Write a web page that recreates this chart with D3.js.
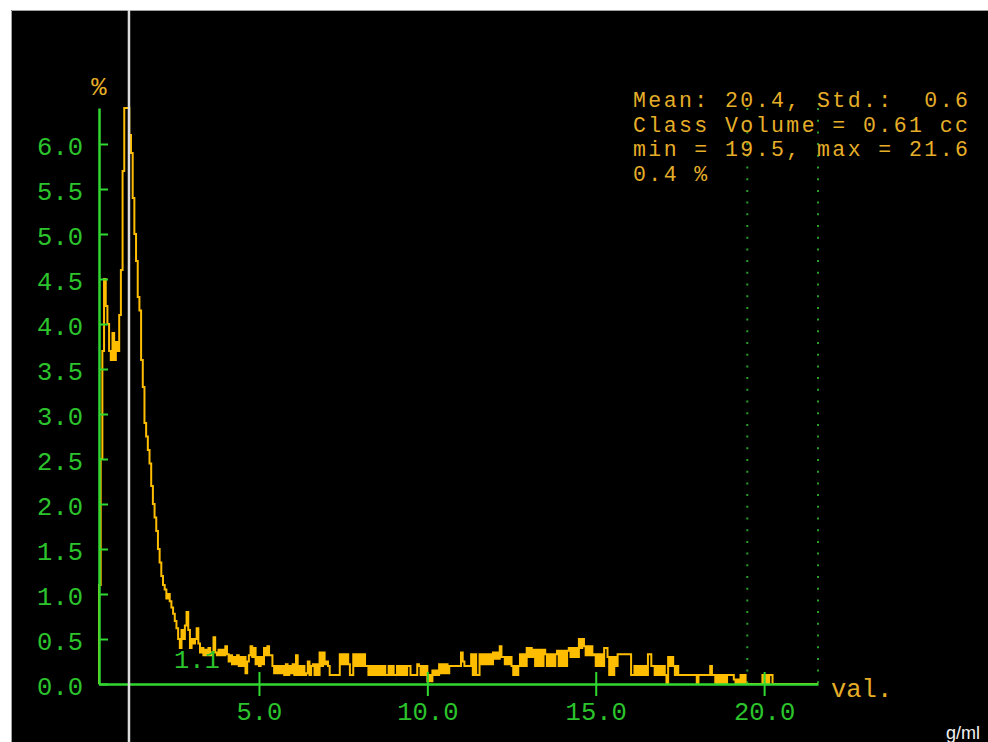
<!DOCTYPE html>
<html>
<head>
<meta charset="utf-8">
<script src="https://cdn.jsdelivr.net/npm/d3@7"></script>
<style>
  html, body { margin: 0; padding: 0; background: #fff; }
  svg { display: block; }
  text { white-space: pre; }
</style>
</head>
<body>
<svg id="chart" width="988" height="742"></svg>
<script>
// Class histogram: percentage of sample volume per 0.05 g/ml class, first class starts at 0.25
const binStart = 0.25;
const binWidth = 0.05;
const percent = [
  1.1, 2.5, 3.7, 4.5, 4.2, 4.0, 3.7, 3.6, 3.9, 3.6, 3.8, 3.7, 4.1, 4.6, 5.7, 6.4, 6.4, 6.4, 6.1, 5.9,
  5.4, 5.0, 4.7, 4.3, 4.15, 3.6, 3.3, 2.9, 2.75, 2.6, 2.45, 2.2, 2.0, 1.85, 1.7, 1.5, 1.35, 1.2, 1.1, 1.05,
  0.95, 1.0, 0.92, 0.85, 0.78, 0.7, 0.62, 0.5, 0.4, 0.6, 0.5, 0.65, 0.8, 0.6, 0.4, 0.5, 0.45, 0.5, 0.62, 0.45,
  0.35, 0.4, 0.32, 0.38, 0.32, 0.4, 0.32, 0.35, 0.52, 0.35, 0.32, 0.38, 0.32, 0.38, 0.32, 0.42, 0.33, 0.25, 0.32, 0.22,
  0.3, 0.22, 0.32, 0.2, 0.3, 0.2, 0.3, 0.12, 0.25, 0.32, 0.42, 0.3, 0.4, 0.22, 0.3, 0.2, 0.3, 0.22, 0.4, 0.32,
  0.42, 0.32, 0.32, 0.2, 0.12, 0.2, 0.12, 0.2, 0.12, 0.2, 0.1, 0.22, 0.1, 0.2, 0.12, 0.22, 0.1, 0.32, 0.1, 0.2,
  0.1, 0.2, 0.1, 0.12, 0.25, 0.1, 0.2, 0.22, 0.1, 0.22, 0.1, 0.35, 0.2, 0.35, 0.22, 0.25, 0.2, 0.1, 0.1, 0.1,
  0.1, 0.1, 0.1, 0.33, 0.22, 0.33, 0.22, 0.33, 0.22, 0.1, 0.1, 0.33, 0.2, 0.33, 0.2, 0.33, 0.2, 0.33, 0.2, 0.2,
  0.1, 0.2, 0.1, 0.2, 0.1, 0.2, 0.1, 0.2, 0.1, 0.2, 0.1, 0.1, 0.2, 0.1, 0.2, 0.1, 0.1, 0.2, 0.1, 0.2,
  0.1, 0.2, 0.1, 0.2, 0.2, 0.1, 0.1, 0.1, 0.1, 0.22, 0.2, 0.1, 0.2, 0.1, 0.2, 0.03, 0.1, 0.03, 0.15, 0.1,
  0.15, 0.1, 0.22, 0.12, 0.22, 0.12, 0.22, 0.12, 0.2, 0.2, 0.2, 0.2, 0.2, 0.2, 0.2, 0.35, 0.25, 0.2, 0.2, 0.2,
  0.2, 0.33, 0.1, 0.33, 0.1, 0.1, 0.33, 0.22, 0.33, 0.22, 0.33, 0.22, 0.33, 0.22, 0.35, 0.28, 0.35, 0.28, 0.42, 0.3,
  0.3, 0.22, 0.3, 0.22, 0.3, 0.2, 0.1, 0.2, 0.1, 0.2, 0.33, 0.2, 0.33, 0.2, 0.4, 0.3, 0.4, 0.3, 0.38, 0.2,
  0.38, 0.2, 0.38, 0.2, 0.38, 0.33, 0.2, 0.33, 0.2, 0.33, 0.2, 0.33, 0.37, 0.2, 0.37, 0.2, 0.37, 0.2, 0.37, 0.4,
  0.3, 0.4, 0.3, 0.4, 0.3, 0.5, 0.4, 0.5, 0.42, 0.32, 0.42, 0.32, 0.42, 0.32, 0.33, 0.2, 0.33, 0.2, 0.33, 0.2,
  0.4, 0.4, 0.3, 0.1, 0.3, 0.1, 0.3, 0.2, 0.33, 0.33, 0.33, 0.33, 0.33, 0.33, 0.33, 0.33, 0.1, 0.1, 0.2, 0.1,
  0.2, 0.1, 0.2, 0.1, 0.2, 0.1, 0.33, 0.33, 0.2, 0.2, 0.1, 0.2, 0.1, 0.2, 0.1, 0.2, 0.1, 0.0, 0.3, 0.2,
  0.3, 0.2, 0.1, 0.2, 0.1, 0.1, 0.1, 0.1, 0.1, 0.1, 0.1, 0.1, 0.1, 0.1, 0.1, 0.0, 0.1, 0.1, 0.1, 0.1,
  0.1, 0.1, 0.1, 0.2, 0.1, 0.1, 0.0, 0.1, 0.0, 0.1, 0.0, 0.1, 0.0, 0.1, 0.1, 0.1, 0.1, 0.05, 0.0, 0.05,
  0.0, 0.1, 0.0, 0.1, 0.0, 0.0, 0.0, 0.0, 0.0, 0.0, 0.0, 0.0, 0.0, 0.0, 0.1, 0.0, 0.1, 0.0, 0.1, 0.1,
  0, 0, 0, 0, 0, 0, 0, 0, 0, 0, 0, 0, 0, 0, 0, 0, 0, 0, 0, 0,
  0, 0, 0, 0, 0, 0, 0
];

const xTicks = [5, 10, 15, 20];
const yTicks = [0, 0.5, 1.0, 1.5, 2.0, 2.5, 3.0, 3.5, 4.0, 4.5, 5.0, 5.5, 6.0];

// cursor position and the selected class limits
const cursorValue = 1.14;
const classMin = 19.5;
const classMax = 21.6;

const statsLines = [
  "Mean: 20.4, Std.:  0.6",
  "Class Volume = 0.61 cc",
  "min = 19.5, max = 21.6",
  "0.4 %"
];
const yLabel = "%";
const xLabel = "val.";
const unitLabel = "g/ml";

// ---- drawing ----
const W = 988, H = 742;
const mono = "'Liberation Mono', 'DejaVu Sans Mono', monospace";
const fontPx = 25.5;
const statsPx = 21.5;
const axisGreen = "#30d830";
const labelGreen = "#2cc42c";
const dotGreen = "#2a9e2a";
const gold = "#e6ae28";
const traceColor = "#ffbd00";

const svg = d3.select("#chart");

// black screen area with a thin grey edge
svg.append("rect")
  .attr("x", 11).attr("y", 10)
  .attr("width", W - 11).attr("height", H - 10)
  .attr("fill", "#000");
svg.append("path")
  .attr("d", `M11.5,${H}V10.5H${W}`)
  .attr("fill", "none")
  .attr("stroke", "#a0a0a0")
  .attr("stroke-width", 1);

const xMax = binStart + percent.length * binWidth;
const x = d3.scaleLinear().domain([binStart, xMax]).range([99, 818]);
const y = d3.scaleLinear().domain([0, d3.max(percent)]).range([684, 108]);

// class limits as dotted verticals
svg.append("g")
  .selectAll("line")
  .data([classMin, classMax])
  .join("line")
  .attr("x1", d => x(d)).attr("x2", d => x(d))
  .attr("y1", y.range()[1]).attr("y2", y(0))
  .attr("stroke", dotGreen)
  .attr("stroke-width", 2)
  .attr("stroke-dasharray", "2,9.7");

// histogram trace as a step line
const pts = [[binStart, 0]]
  .concat(percent.map((v, i) => [binStart + i * binWidth, v]));
pts.push([xMax, percent[percent.length - 1]]);

const stepLine = d3.line()
  .x(d => x(d[0]))
  .y(d => y(d[1]))
  .curve(d3.curveStepAfter);

svg.append("path")
  .datum(pts)
  .attr("d", stepLine)
  .attr("fill", "none")
  .attr("stroke", traceColor)
  .attr("stroke-width", 2)
  .attr("stroke-linejoin", "miter");

// x axis: ticks cross the baseline
const gx = svg.append("g")
  .attr("transform", `translate(0,${y(0)})`)
  .call(d3.axisBottom(x)
    .tickValues(xTicks)
    .tickFormat(d3.format(".1f"))
    .tickSizeOuter(0)
    .tickSizeInner(12)
    .tickPadding(0));
gx.select(".domain").attr("stroke", axisGreen).attr("stroke-width", 2.5);
gx.selectAll(".tick line")
  .attr("y1", -12).attr("y2", 12)
  .attr("stroke", axisGreen).attr("stroke-width", 2);
gx.selectAll(".tick text")
  .attr("y", 36).attr("dy", null)
  .attr("fill", labelGreen)
  .attr("font-family", mono)
  .attr("font-size", fontPx);

// y axis: ticks point into the plot, labels on the left
const gy = svg.append("g")
  .attr("transform", `translate(${x(binStart)},0)`)
  .call(d3.axisLeft(y)
    .tickValues(yTicks)
    .tickFormat(d3.format(".1f"))
    .tickSizeOuter(0)
    .tickSizeInner(-9)
    .tickPadding(16));
gy.select(".domain").attr("stroke", axisGreen).attr("stroke-width", 2.5);
gy.selectAll(".tick line").attr("stroke", axisGreen).attr("stroke-width", 2);
gy.selectAll(".tick text")
  .attr("dy", "0.42em")
  .attr("fill", labelGreen)
  .attr("font-family", mono)
  .attr("font-size", fontPx);

// axis captions
svg.append("text")
  .attr("x", x(binStart)).attr("y", 95)
  .attr("text-anchor", "middle")
  .attr("fill", gold).attr("font-family", mono).attr("font-size", fontPx)
  .text(yLabel);
svg.append("text")
  .attr("x", x(xMax) + 13).attr("y", 697)
  .attr("fill", gold).attr("font-family", mono).attr("font-size", fontPx)
  .text(xLabel);
svg.append("text")
  .attr("x", 946).attr("y", 739)
  .attr("fill", "#f2f2f2")
  .attr("font-family", "'Liberation Sans', Arial, sans-serif")
  .attr("font-size", 18)
  .text(unitLabel);

// statistics block (same character pitch as the axis labels, tighter glyphs)
svg.append("g")
  .selectAll("text")
  .data(statsLines)
  .join("text")
  .attr("x", 633)
  .attr("y", (d, i) => 107 + i * 24.5)
  .attr("fill", gold).attr("font-family", mono).attr("font-size", statsPx)
  .attr("letter-spacing", 15.33 - statsPx * 0.6)
  .text(d => d);

// cursor readout and cursor line
svg.append("text")
  .attr("x", 174).attr("y", 668)
  .attr("fill", labelGreen).attr("font-family", mono).attr("font-size", fontPx)
  .text(d3.format(".1f")(cursorValue));

svg.append("line")
  .attr("x1", x(cursorValue)).attr("x2", x(cursorValue))
  .attr("y1", 10).attr("y2", H)
  .attr("stroke", "#dcdcdc")
  .attr("stroke-width", 2.5);
</script>
</body>
</html>
